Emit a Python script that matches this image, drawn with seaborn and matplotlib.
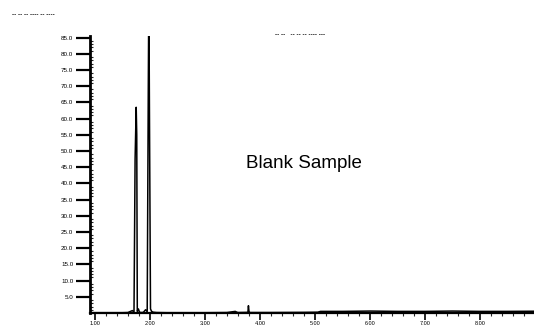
import pandas as pd
import matplotlib
matplotlib.use("Agg")
import matplotlib.pyplot as plt
import seaborn as sns
from matplotlib.ticker import MultipleLocator

sns.set_theme(style="ticks")
plt.rcParams["font.family"] = ["Liberation Sans", "DejaVu Sans"]

# Chromatogram trace (time in min, response)
tempo = [0.92, 1.50, 1.60, 1.68, 1.71, 1.73, 1.75, 1.76, 1.77, 1.79, 1.81, 1.84,
         1.88, 1.92, 1.95, 1.97, 1.98, 1.99, 2.01, 2.03, 2.06, 2.12, 2.30,
         2.60, 3.00, 3.40, 3.55, 3.58, 3.60, 3.78, 3.79, 3.80, 3.81, 3.83,
         4.20, 4.80, 5.05, 5.10, 5.50, 6.00, 6.50, 7.00, 7.50, 8.00, 8.50, 8.98]
resposta = [0.02, 0.02, 0.03, 0.15, 0.05, 9.5, 12.7, 11.0, 0.10, 0.25, 0.05, 0.03,
            0.04, 0.20, 0.08, 14.0, 20.0, 13.0, 0.25, 0.10, 0.05, 0.03, 0.02,
            0.02, 0.02, 0.03, 0.10, 0.05, 0.03, 0.04, 0.45, 0.10, 0.04, 0.03,
            0.03, 0.04, 0.05, 0.10, 0.10, 0.12, 0.10, 0.10, 0.12, 0.10, 0.10, 0.11]

y_ticks = list(range(1, 18))
x_ticks = [1, 2, 3, 4, 5, 6, 7, 8]

df = pd.DataFrame({"tempo": tempo, "resposta": resposta})

fig = plt.figure(figsize=(5.34, 3.28), dpi=100)
ax = fig.add_axes([0.1685, 0.0457, 0.8315, 0.8445])

sns.lineplot(data=df, x="tempo", y="resposta", ax=ax, color="black",
             linewidth=1.1, estimator=None, sort=False)

ax.set_xlim(0.91, 8.98)
ax.set_ylim(0, 17.1)
ax.set_xlabel("")
ax.set_ylabel("")

ax.set_yticks(y_ticks)
ax.set_yticklabels([f"{v * 5}.0" for v in y_ticks])
ax.yaxis.set_minor_locator(MultipleLocator(0.2))
ax.tick_params(axis="y", which="major", length=10, width=1.6, labelsize=4.5,
               pad=2, colors="black")
ax.tick_params(axis="y", which="minor", length=2, width=0.8, direction="in")

ax.set_xticks(x_ticks)
ax.set_xticklabels([f"{v}.00" for v in x_ticks])
ax.xaxis.set_minor_locator(MultipleLocator(0.2))
ax.tick_params(axis="x", which="major", length=5, width=1.2, labelsize=4,
               pad=1, colors="black")
ax.tick_params(axis="x", which="minor", length=2.5, width=0.8)

sns.despine(ax=ax)
ax.spines["left"].set_linewidth(2.0)
ax.spines["bottom"].set_linewidth(1.6)
ax.spines["left"].set_color("black")
ax.spines["bottom"].set_color("black")

ax.text(0.482, 0.523, "Blank Sample", transform=ax.transAxes, fontsize=13.5,
        ha="center", va="baseline", color="black")

# cabeçalhos ilegíveis da digitalização
fig.text(12 / 534, 1 - 15 / 328, "-- -- -- ---- -- ----", fontsize=4.5,
         ha="left", va="center", color="black", fontweight="bold")
fig.text(275 / 534, 1 - 35 / 328, "-- --   -- -- -- ---- ---", fontsize=4.5,
         ha="left", va="center", color="black", fontweight="bold")

plt.savefig("out.png", dpi=100)
plt.close()
